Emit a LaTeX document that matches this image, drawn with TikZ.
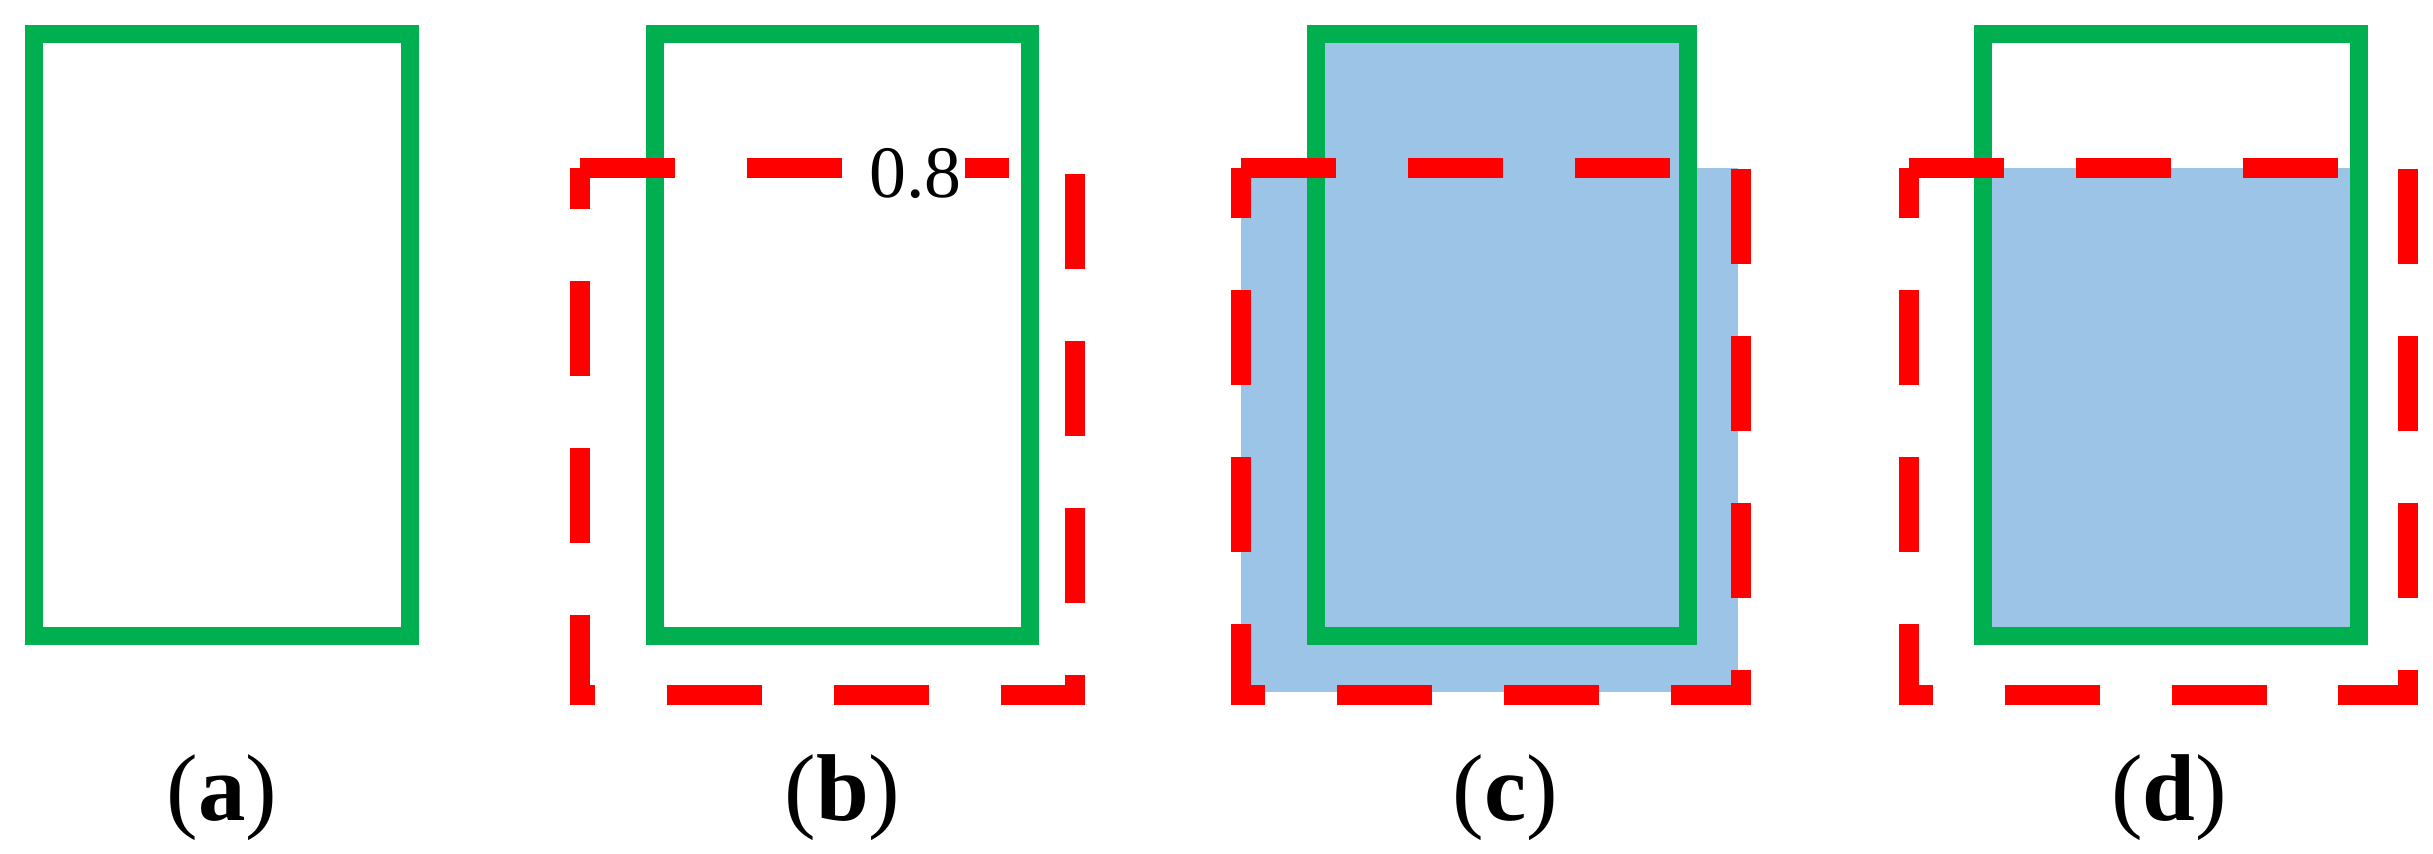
\documentclass[tikz,border=0pt]{standalone}
\usepackage{fontspec}
\setmainfont{Liberation Serif}
\definecolor{gr}{RGB}{0,176,80}
\definecolor{bl}{RGB}{155,196,230}
\begin{document}
\begin{tikzpicture}[x=0.015517cm,y=-0.015517cm,
  grn/.style={draw=gr,line width=0.18cm},
  red/.style={draw=red,line width=0.2cm,dash pattern=on 0.95cm off 0.72cm},
  lab/.style={font=\fontsize{27}{32}\selectfont}]
\useasboundingbox (0,0) rectangle (1568,550);
% (a)
\draw[grn] (22,22) rectangle (264,410);
% (b)
\draw[grn] (422,22) rectangle (664,410);
\draw[red] (374,108) -- (693,108) -- (693,448) -- (374,448) -- cycle;
\node[fill=white,inner sep=1pt,font=\fontsize{21}{24}\selectfont] (v) at (590,112) {0.8};
% (c)
\fill[bl] (800,108) rectangle (1120,446);
\fill[bl] (848,22) rectangle (1088,108);
\draw[grn] (848,22) rectangle (1088,410);
\draw[red] (800,108) -- (1122,108) -- (1122,448) -- (800,448) -- cycle;
% (d)
\fill[bl] (1278,108) rectangle (1520,410);
\draw[grn] (1278,22) rectangle (1520,410);
\draw[red] (1230,108) -- (1552,108) -- (1552,448) -- (1230,448) -- cycle;
% labels
\node[lab] (la) at (143,514) {(\textbf{a})};
\node[lab] (lb) at (543,514) {(\textbf{b})};
\node[lab] (lc) at (970,514) {(\textbf{c})};
\node[lab] (ld) at (1398,514) {(\textbf{d})};
\end{tikzpicture}
\end{document}
